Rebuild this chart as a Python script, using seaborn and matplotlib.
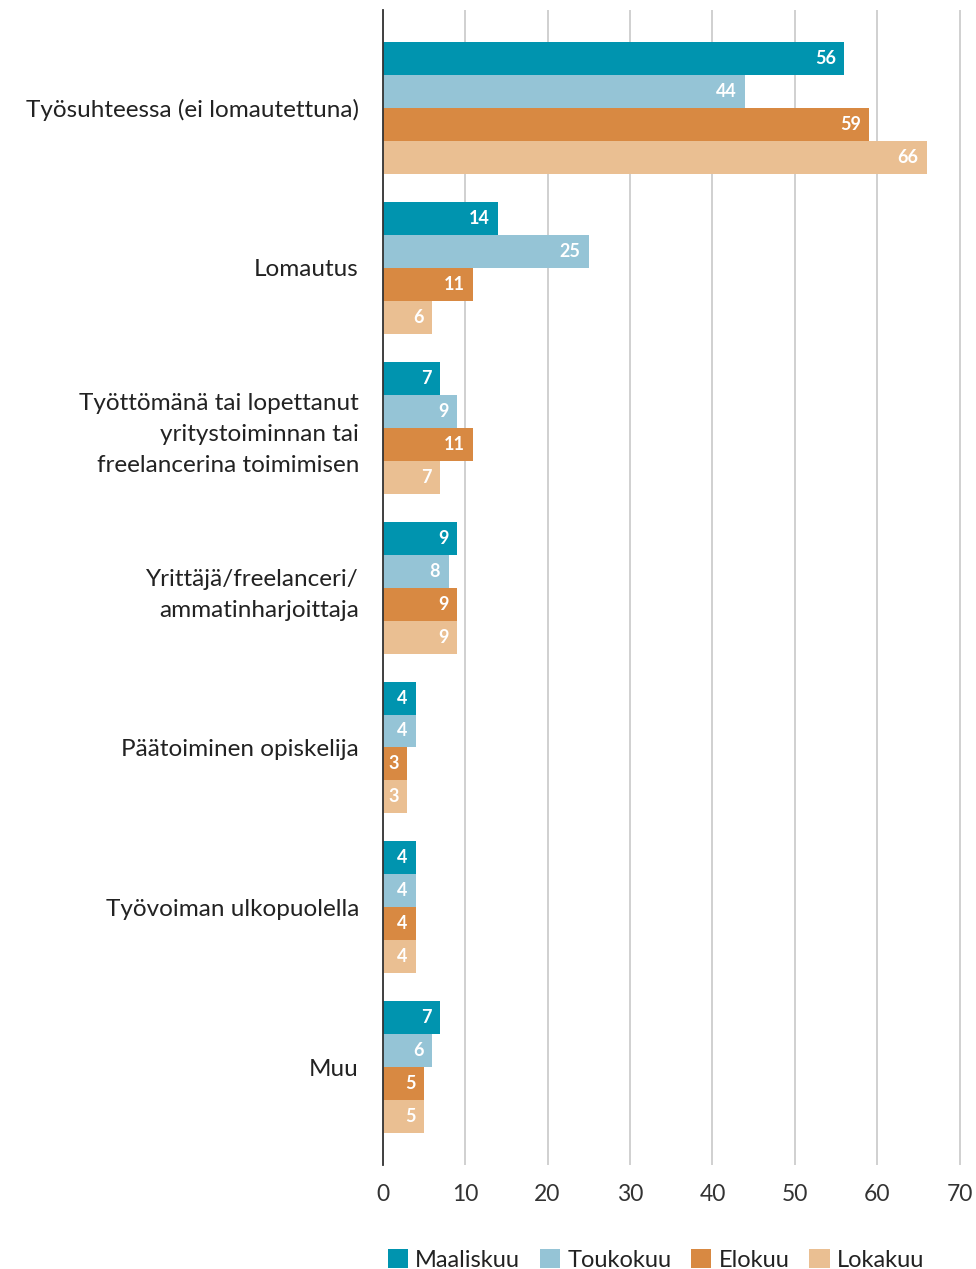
import matplotlib
matplotlib.use("Agg")
import matplotlib.pyplot as plt
import seaborn as sns
import pandas as pd

categories = [
    "Työsuhteessa (ei lomautettuna)",
    "Lomautus",
    "Työttömänä tai lopettanut\nyritystoiminnan tai\nfreelancerina toimimisen",
    "Yrittäjä/freelanceri/\nammatinharjoittaja",
    "Päätoiminen opiskelija",
    "Työvoiman ulkopuolella",
    "Muu",
]
series = ["Maaliskuu", "Toukokuu", "Elokuu", "Lokakuu"]
maaliskuu = [56, 14, 7, 9, 4, 4, 7]
toukokuu = [44, 25, 9, 8, 4, 4, 6]
elokuu = [59, 11, 11, 9, 3, 4, 5]
lokakuu = [66, 6, 7, 9, 3, 4, 5]
colors = ["#0094AF", "#95C4D6", "#D88942", "#EABF92"]
xticks = [0, 10, 20, 30, 40, 50, 60, 70]

rows = []
for s, vals in zip(series, [maaliskuu, toukokuu, elokuu, lokakuu]):
    for c, v in zip(categories, vals):
        rows.append({"cat": c, "kk": s, "val": v})
df = pd.DataFrame(rows)

sns.set_theme(style="white")
plt.rcParams["font.family"] = ["Lato", "DejaVu Sans"]

fig = plt.figure(figsize=(9.76, 12.69), dpi=100)
ax = fig.add_axes([0.392, 0.082, 0.594, 0.910])

sns.barplot(data=df, y="cat", x="val", hue="kk", order=categories,
            hue_order=series, palette=colors, orient="h", width=0.825,
            saturation=1, ax=ax, legend=True, errorbar=None, linewidth=0)

for cont in ax.containers:
    for bar in cont:
        w = bar.get_width()
        y = bar.get_y() + bar.get_height() / 2
        ax.annotate(f"{w:g}", (w, y), xytext=(-6, 0), textcoords="offset points",
                    ha="right", va="center", color="white", fontsize=13,
                    fontweight="bold")

ax.set_xlim(0, 70.3)
ax.set_ylim(6.61, -0.61)
ax.set_xticks(xticks)
ax.set_xticklabels([str(t) for t in xticks], fontsize=16.5, color="#333333")
ax.tick_params(axis="x", length=6, width=1, color="#C8C8C8", pad=8)
ax.tick_params(axis="y", length=0, pad=17, labelsize=17.5, labelcolor="#222222")
for lbl in ax.get_yticklabels():
    lbl.set_horizontalalignment("right")
    lbl.set_multialignment("right")
    lbl.set_linespacing(1.6)
ax.set_xlabel("")
ax.set_ylabel("")
ax.grid(axis="x", color="#C8C8C8", linewidth=1.2)
ax.set_axisbelow(True)
for sp in ["top", "right", "bottom"]:
    ax.spines[sp].set_visible(False)
ax.spines["left"].set_color("#333333")
ax.spines["left"].set_linewidth(1.3)

handles, labels = ax.get_legend_handles_labels()
ax.get_legend().remove()
fig.legend(handles, labels, loc="lower center", bbox_to_anchor=(0.672, -0.018),
           ncol=4, frameon=False, fontsize=17, handlelength=0.85, handleheight=0.85,
           handletextpad=0.3, columnspacing=0.85, labelcolor="#222222")

fig.savefig("out.png", dpi=100)
